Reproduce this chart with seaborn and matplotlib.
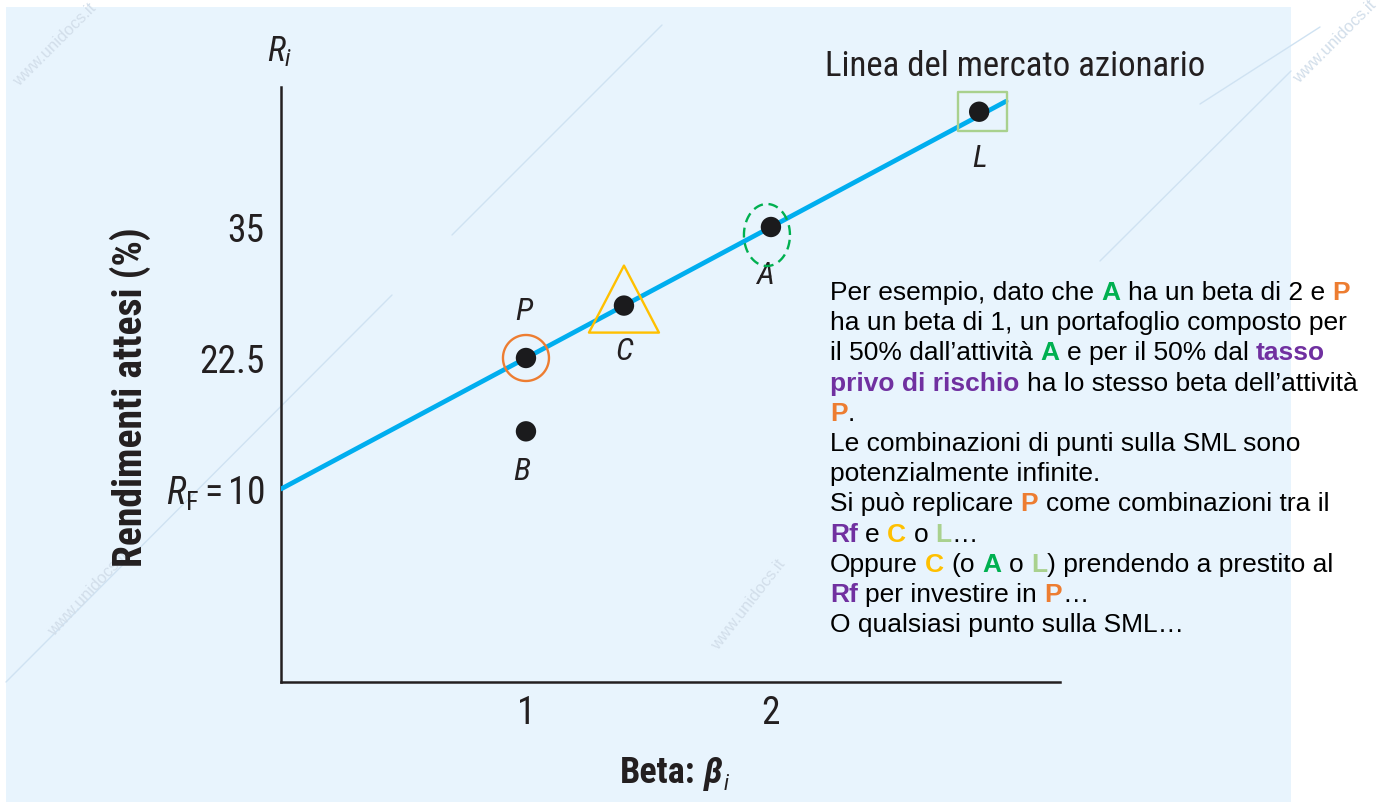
import matplotlib
matplotlib.use("Agg")
import numpy as np
import pandas as pd
import seaborn as sns
import matplotlib.pyplot as plt
from matplotlib import font_manager as fm
from matplotlib.markers import MarkerStyle
from matplotlib.path import Path
from matplotlib.patches import Rectangle
from matplotlib.lines import Line2D
from matplotlib.transforms import IdentityTransform

# ---------------------------------------------------------------- data
asset_names = ["P", "B", "C", "A", "L"]
asset_beta = [1.0, 1.0, 1.4, 2.0, 2.85]
asset_return = [22.5, 15.5, 27.5, 35.0, 46.0]

# security market line end points (beta, expected return %)
sml_beta = [0.0, 2.96]
sml_return = [10.0, 47.0]

y_ticks = [10.0, 22.5, 35.0]
y_tick_labels = [r"$R_{\mathrm{F}} = 10$", "22.5", "35"]
x_ticks = [1, 2]
x_tick_labels = ["1", "2"]

beta_range = (0.0, 3.18)
return_range = (-8.42, 48.36)

# ---------------------------------------------------------------- fonts
sns.set_theme(style="white")
names = {f.name for f in fm.fontManager.ttflist}
NARROW, STRETCH, SCALE = None, "normal", 1.0
for cand in ["Liberation Sans Narrow", "Roboto Condensed", "Open Sans Condensed",
             "DejaVu Sans Condensed"]:
    if cand in names:
        NARROW = cand
        break
if NARROW is None:
    if any(f.name == "DejaVu Sans" and str(f.stretch) == "condensed"
           for f in fm.fontManager.ttflist):
        NARROW, STRETCH = "DejaVu Sans", "condensed"
    else:
        NARROW, SCALE = ("Roboto" if "Roboto" in names else "DejaVu Sans"), 0.88
BODY = "Liberation Sans" if "Liberation Sans" in names else "DejaVu Sans"

plt.rcParams["font.family"] = [NARROW, "DejaVu Sans"]
plt.rcParams["mathtext.fontset"] = "custom"
_st = ":condensed" if STRETCH == "condensed" else ""
plt.rcParams["mathtext.rm"] = NARROW + _st
plt.rcParams["mathtext.it"] = NARROW + ":italic" + _st
plt.rcParams["mathtext.bf"] = NARROW + ":bold" + _st

INK = "#231f20"
nk = dict(family=NARROW, stretch=STRETCH, color=INK)

W, H = 1378, 803
fig = plt.figure(figsize=(W / 100, H / 100), dpi=100)
fig.patch.set_facecolor("white")


def fx(px):
    return px / W


def fy(py):
    return 1 - py / H


# light panel behind the chart
fig.patches.append(Rectangle((fx(6), 0), fx(1291) - fx(6), fy(8),
                             transform=fig.transFigure, facecolor="#E8F4FD",
                             edgecolor="none", zorder=-10))

# faint site watermark
wm = "#CFE2F2"
for (x0, y0, x1, y1) in [(6, 683, 392, 296), (452, 236, 662, 26),
                         (1100, 262, 1291, 72), (1200, 105, 1320, 28)]:
    fig.add_artist(Line2D([fx(x0), fx(x1)], [fy(y0), fy(y1)], color=wm, lw=1.0,
                          transform=fig.transFigure, zorder=-9))
for (x, y, r) in [(88, 594, 47), (748, 605, 52), (55, 45, 45), (1335, 42, 45)]:
    fig.text(fx(x), fy(y), "www.unidocs.it", rotation=r, ha="center", va="center",
             fontsize=12, color="#D2DEEA", family=BODY, zorder=-8)

# ---------------------------------------------------------------- axes
ax = fig.add_axes([fx(281), fy(683), fx(1060) - fx(281), fy(88) - fy(683)])
ax.set_facecolor("none")

sns.lineplot(x=sml_beta, y=sml_return, color="#00AEEF", lw=3.4, ax=ax, zorder=3)
sns.scatterplot(x=asset_beta, y=asset_return, s=215, color="#1b1b1d",
                edgecolor="none", zorder=5, ax=ax, legend=False)


def px_marker(verts):
    """Marker from a closed outline given in pixel units around the point."""
    v = np.asarray(verts, float)
    size_pt = 2 * np.abs(v).max() * 0.72
    codes = [Path.MOVETO] + [Path.LINETO] * (len(v) - 2) + [Path.CLOSEPOLY]
    return MarkerStyle(Path(v, codes)), size_pt ** 2


theta = np.linspace(0, 2 * np.pi, 120)
ring_circle = np.column_stack([23 * np.cos(theta), 23 * np.sin(theta)])
ring_ellipse = np.column_stack([23 * np.cos(theta) - 4, 31 * np.sin(theta) - 8])
ring_triangle = [(0, 40), (-35, -27), (35, -27), (0, 40)]
ring_square = [(-21, 20), (28, 20), (28, -19), (-21, -19), (-21, 20)]

rings = {
    "P": (ring_circle, "#ED7D31", "-"),
    "C": (ring_triangle, "#FFC000", "-"),
    "A": (ring_ellipse, "#00B050", (0, (4.2, 2.4))),
    "L": (ring_square, "#A9D18E", "-"),
}
for name, (verts, col, ls) in rings.items():
    i = asset_names.index(name)
    mk, s = px_marker(verts)
    ax.scatter([asset_beta[i]], [asset_return[i]], marker=mk, s=s,
               facecolors="none", edgecolors=col, linewidths=1.7,
               linestyle=ls, zorder=4)

# point names
label_offset = {"P": (-1.5, 34), "B": (-3, -28), "C": (0, -32),
                "A": (-4, -34.5), "L": (0, -33)}
for name, b, r in zip(asset_names, asset_beta, asset_return):
    dx, dy = label_offset[name]
    ax.annotate(name, (b, r), xytext=(dx, dy), textcoords="offset points",
                ha="center", va="center", fontsize=23 * SCALE,
                fontstyle="italic", **nk)

ax.set_xlim(*beta_range)
ax.set_ylim(*return_range)
ax.set_xticks(x_ticks)
ax.set_xticklabels(x_tick_labels)
ax.set_yticks(y_ticks)
ax.set_yticklabels(y_tick_labels)
ax.set_yticks([return_range[1]], minor=True)
ax.tick_params(axis="both", which="both", direction="in", length=11, width=1.8,
               color=INK, labelsize=27 * SCALE, labelcolor=INK, pad=12)
ax.tick_params(axis="x", pad=9)
for lab in ax.get_xticklabels() + ax.get_yticklabels():
    lab.set_fontfamily(NARROW)
    lab.set_fontstretch(STRETCH)

sns.despine(ax=ax)
for side in ("left", "bottom"):
    ax.spines[side].set_linewidth(1.8)
    ax.spines[side].set_color(INK)

ax.set_ylabel("Rendimenti attesi (%)", fontsize=28.5 * SCALE, fontweight="bold", **nk)
ax.yaxis.label.set_va("center")
ax.yaxis.set_label_coords((130 - 281) / 779, (683 - 397) / 595)

# top-left axis symbol and line name
fig.text(fx(280), fy(52), r"$R_i$", ha="center", va="center", fontsize=25 * SCALE,
         color=INK)
fig.text(fx(825), fy(76), "Linea del mercato azionario", ha="left", va="baseline",
         fontsize=25 * SCALE, **nk)

fig.canvas.draw()
renderer = fig.canvas.get_renderer()


def chain(pieces, x, y, base_kw):
    """Draw styled pieces one after another starting at pixel (x, y) baseline."""
    probe1 = fig.text(0, 0, "x x", **base_kw)
    probe2 = fig.text(0, 0, "xx", **base_kw)
    space = (probe1.get_window_extent(renderer).width
             - probe2.get_window_extent(renderer).width)
    probe1.remove()
    probe2.remove()
    cur = x
    for text, kw in pieces:
        lead = len(text) - len(text.lstrip(" "))
        trail = len(text) - len(text.rstrip(" "))
        cur += lead * space
        core = text.strip(" ")
        if core:
            t = fig.text(cur, y, core, transform=IdentityTransform(),
                         ha="left", va="baseline", **{**base_kw, **kw})
            cur += t.get_window_extent(renderer).width
        cur += trail * space
    return cur


# x axis title: "Beta: beta_i"
xt_kw = dict(fontsize=26 * SCALE, family=NARROW, stretch=STRETCH, color=INK,
             fontweight="bold")
end = chain([("Beta: ", {}), ("β", {"fontstyle": "italic"})], 620, H - 783, xt_kw)
fig.text(end + 1, H - 790, "i", transform=IdentityTransform(), fontsize=16 * SCALE,
         fontstyle="italic", family=NARROW, stretch=STRETCH, color=INK)

# explanatory note
G, O, PU, Y, LG = "#00B050", "#ED7D31", "#7030A0", "#FFC000", "#A9D18E"


def c(col):
    return {"color": col, "fontweight": "bold"}


k = {}
note_lines = [
    [("Per esempio, dato che ", k), ("A", c(G)), (" ha un beta di 2 e ", k), ("P", c(O))],
    [("ha un beta di 1, un portafoglio composto per", k)],
    [("il 50% dall\u2019attività ", k), ("A", c(G)), (" e per il 50% dal ", k),
     ("tasso", c(PU))],
    [("privo di rischio", c(PU)), (" ha lo stesso beta dell\u2019attività", k)],
    [("P", c(O)), (".", k)],
    [("Le combinazioni di punti sulla SML sono", k)],
    [("potenzialmente infinite.", k)],
    [("Si può replicare ", k), ("P", c(O)), (" come combinazioni tra il", k)],
    [("Rf", c(PU)), (" e ", k), ("C", c(Y)), (" o ", k), ("L", c(LG)), ("\u2026", k)],
    [("Oppure ", k), ("C", c(Y)), (" (o ", k), ("A", c(G)), (" o ", k), ("L", c(LG)),
     (") prendendo a prestito al", k)],
    [("Rf", c(PU)), (" per investire in ", k), ("P", c(O)), ("\u2026", k)],
    [("O qualsiasi punto sulla SML\u2026", k)],
]
note_kw = dict(fontsize=19, family=BODY, color="#000000")
for i, pieces in enumerate(note_lines):
    chain(pieces, 830, H - (300 + 30.2 * i), note_kw)

fig.savefig("out.png", dpi=100, facecolor=fig.get_facecolor())
